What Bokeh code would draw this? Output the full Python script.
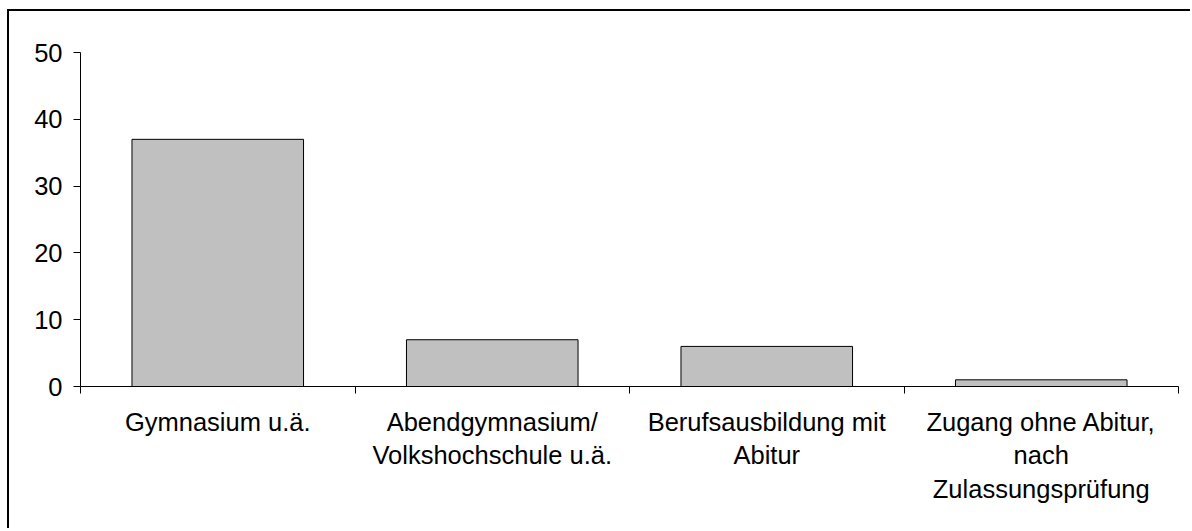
from bokeh.plotting import figure
from bokeh.models import Range1d, FixedTicker, ColumnDataSource
from bokeh.embed import file_html
from bokeh.resources import INLINE

# ---- data ----
categories = [
    "Gymnasium u.ä.",
    "Abendgymnasium/\nVolkshochschule u.ä.",
    "Berufsausbildung mit\nAbitur",
    "Zugang ohne Abitur,\nnach\nZulassungsprüfung",
]
values = [37, 7, 6, 1]
y_ticks = [0, 10, 20, 30, 40, 50]

positions = [i + 0.5 for i in range(len(categories))]
boundaries = [float(i) for i in range(len(categories) + 1)]

src = ColumnDataSource(dict(x=positions, top=values))

p = figure(
    width=1183, height=519,
    output_backend="svg", toolbar_location=None,
    x_range=Range1d(0, len(categories)), y_range=Range1d(0, 50),
    min_border_left=71, min_border_top=41, min_border_right=14, min_border_bottom=144,
)
p.styles = {"border-top": "2px solid black", "border-left": "2px solid black",
            "margin-left": "7px", "margin-top": "9px"}
p.outline_line_color = None
p.grid.visible = False
p.background_fill_color = "white"
p.border_fill_color = "white"

p.vbar(x="x", top="top", bottom=0, width=0.625, source=src,
       fill_color="#C0C0C0", line_color="black", line_width=1)

FONT = "Liberation Sans"

# y axis
ya = p.yaxis[0]
ya.ticker = FixedTicker(ticks=y_ticks, minor_ticks=[])
ya.axis_line_color = "black"
ya.major_tick_line_color = "black"
ya.major_tick_out = 7
ya.major_tick_in = 0
ya.minor_tick_line_color = None
ya.major_label_standoff = 11
ya.major_label_text_font = FONT
ya.major_label_text_font_size = "25.5px"
ya.major_label_text_color = "black"

# x axis: category labels at centers, ticks at category boundaries
xa = p.xaxis[0]
xa.ticker = FixedTicker(ticks=positions, minor_ticks=boundaries)
xa.major_label_overrides = {pos: lab for pos, lab in zip(positions, categories)}
xa.axis_line_color = "black"
xa.major_tick_line_color = None
xa.major_tick_out = 0
xa.major_tick_in = 0
xa.minor_tick_line_color = "black"
xa.minor_tick_out = 7
xa.minor_tick_in = 0
xa.major_label_standoff = 14
xa.major_label_text_font = FONT
xa.major_label_text_font_size = "25.5px"
xa.major_label_text_color = "black"
xa.major_label_text_line_height = 1.2
xa.major_label_orientation = "horizontal"

open("out.html", "w").write(file_html(p, INLINE))
